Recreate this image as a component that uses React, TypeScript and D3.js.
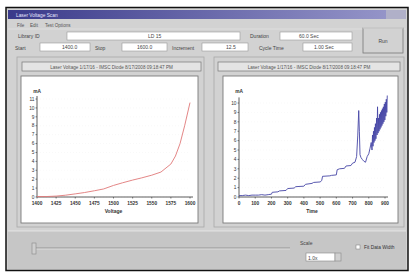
import React from "react";
import * as d3 from "d3";

const voltage = [1400, 1412, 1425, 1437, 1450, 1462, 1475, 1487, 1500, 1512, 1525, 1537, 1550, 1562, 1575, 1581, 1587, 1593, 1600];
const currentL = [0.05, 0.05, 0.1, 0.2, 0.35, 0.5, 0.7, 0.9, 1.3, 1.6, 1.9, 2.15, 2.45, 2.8, 3.7, 4.6, 6.0, 8.0, 10.6];
const xTicksL = [1400, 1425, 1450, 1475, 1500, 1525, 1550, 1575, 1600];
const yTicksL = [0, 1, 2, 3, 4, 5, 6, 7, 8, 9, 10, 11];

const time = [0, 20, 40, 60, 80, 100, 120, 140, 160, 180, 200, 205, 240, 250, 290, 300, 340, 350, 400, 410, 450, 460, 500, 510, 515, 560, 570, 600, 605, 620, 650, 660, 690, 700, 715, 725, 732, 738, 742, 746, 752, 760, 770, 780, 790, 800, 808, 815, 820, 823, 826, 829, 832, 835, 838, 841, 844, 848, 851, 854, 857, 860, 863, 866, 869, 872, 875, 878, 881, 884, 887, 890, 893, 896, 899, 902, 905, 908, 911, 914];
const currentR = [0.15, 0.15, 0.2, 0.15, 0.2, 0.2, 0.2, 0.25, 0.2, 0.25, 0.3, 0.5, 0.55, 0.65, 0.7, 0.9, 0.95, 1.1, 1.15, 1.35, 1.45, 1.55, 1.6, 1.75, 2.2, 2.25, 2.3, 2.35, 2.9, 3.0, 3.05, 3.3, 3.35, 3.6, 3.7, 4.3, 6.5, 9.2, 7.0, 4.5, 4.2, 4.0, 3.8, 3.7, 4.3, 4.6, 5.2, 5.8, 5.0, 6.6, 5.4, 7.0, 5.8, 7.4, 6.0, 7.8, 6.2, 8.4, 6.6, 9.6, 6.8, 8.4, 7.0, 8.8, 7.2, 9.0, 7.4, 9.2, 7.6, 9.4, 7.8, 9.6, 8.0, 9.9, 8.2, 10.1, 8.6, 10.4, 9.0, 10.8];
const xTicksR = [0, 100, 200, 300, 400, 500, 600, 700, 800, 900];
const yTicksR = [0, 1, 2, 3, 4, 5, 6, 7, 8, 9, 10];

const FONT = "Liberation Sans, Arial, sans-serif";

function Field({ x, y, w, h, text, tx }: { x: number; y: number; w: number; h: number; text: string; tx: number }) {
  return (
    <g>
      <rect x={x} y={y} width={w} height={h} fill="#fff" stroke="#9a9a9a" strokeWidth={0.6} />
      <text x={tx} y={y + h - 2} fontSize={5} fill="#444" fontFamily={FONT}>{text}</text>
    </g>
  );
}

function Chart({ xs, ys, xDom, yDom, xRange, yRange, xTicks, yTicks, color, xLabel, frame, title }: any) {
  const x = d3.scaleLinear().domain(xDom).range(xRange);
  const y = d3.scaleLinear().domain(yDom).range(yRange);
  const line = d3.line<number>().x((d, i) => x(xs[i])).y((d) => y(d));
  const ax = xRange[0];
  const ay = yRange[0];
  return (
    <g>
      <rect x={frame.gx} y={57} width={frame.gw} height={170} fill="none" stroke="#a8a8a8" strokeWidth={0.8} />
      <rect x={frame.tx} y={62} width={frame.tw} height={9} fill="#e4e4e4" stroke="#777" strokeWidth={0.7} />
      <text x={frame.tx + frame.tw / 2} y={68.8} fontSize={4.6} textAnchor="middle" fill="#555" fontFamily={FONT}>{title}</text>
      <rect x={frame.px} y={76} width={frame.pw} height={147} fill="#fff" stroke="#7a7a7a" strokeWidth={0.9} />
      {yTicks.map((t: number) => (
        <line key={"g" + t} x1={ax} x2={xRange[1]} y1={y(t)} y2={y(t)} stroke="#f2f2f2" strokeWidth={0.5} strokeDasharray="1,2" />
      ))}
      <line x1={ax} x2={ax} y1={yRange[1]} y2={ay} stroke="#333" strokeWidth={0.8} />
      <line x1={ax} x2={xRange[1] + 3} y1={ay} y2={ay} stroke="#333" strokeWidth={0.8} />
      {yTicks.map((t: number) => (
        <g key={"y" + t}>
          <line x1={ax - 1.5} x2={ax} y1={y(t)} y2={y(t)} stroke="#333" strokeWidth={0.6} />
          <text x={ax - 2.5} y={y(t) + 1.7} fontSize={4.8} textAnchor="end" fill="#333" fontFamily={FONT}>{t}</text>
        </g>
      ))}
      {xTicks.map((t: number) => (
        <g key={"x" + t}>
          <line x1={x(t)} x2={x(t)} y1={ay} y2={ay + 1.5} stroke="#333" strokeWidth={0.6} />
          <text x={x(t)} y={ay + 7.5} fontSize={4.8} textAnchor="middle" fill="#333" fontFamily={FONT} fontWeight="bold">{t}</text>
        </g>
      ))}
      <text x={ax} y={93} fontSize={4.8} textAnchor="middle" fill="#333" fontFamily={FONT} fontWeight="bold">mA</text>
      <text x={(xRange[0] + xRange[1]) / 2} y={ay + 16} fontSize={5} textAnchor="middle" fill="#333" fontFamily={FONT} fontWeight="bold">{xLabel}</text>
      <path d={line(ys) || ""} fill="none" stroke={color} strokeWidth={0.9} />
    </g>
  );
}

export default function App() {
  return (
    <svg width={410} height={275} style={{ position: "absolute", left: 0, top: 0 }}>
      <defs>
        <linearGradient id="tb" x1="0" x2="1" y1="0" y2="0">
          <stop offset="0" stopColor="#3a3a8a" />
          <stop offset="1" stopColor="#9494c8" />
        </linearGradient>
      </defs>
      <rect width={410} height={275} fill="#fff" />
      <rect x={6} y={7.5} width={402} height={263} fill="#d2d2d2" stroke="#111" strokeWidth={1.5} />
      <rect x={8} y={10} width={378} height={9} fill="url(#tb)" />
      <rect x={386} y={10} width={20} height={9} fill="#b0b0c8" />
      <text x={16} y={16.5} fontSize={4.8} fill="#e8e8ff" fontFamily={FONT}>Laser Voltage Scan</text>
      <text x={17} y={26.5} fontSize={4.6} fill="#555" fontFamily={FONT}>File</text>
      <text x={30} y={26.5} fontSize={4.6} fill="#555" fontFamily={FONT}>Edit</text>
      <text x={45} y={26.5} fontSize={4.6} fill="#555" fontFamily={FONT}>Test Options</text>
      <line x1={8} x2={406} y1={29} y2={29} stroke="#e8e8e8" strokeWidth={0.6} />

      <text x={18} y={38} fontSize={5} fill="#444" fontFamily={FONT}>Library ID</text>
      <Field x={67} y={32} w={173} h={8} text="LD 15" tx={148} />
      <text x={250} y={38} fontSize={5} fill="#444" fontFamily={FONT}>Duration</text>
      <Field x={280} y={32} w={72} h={8} text="60.0 Sec" tx={299} />

      <text x={15} y={49.5} fontSize={5} fill="#444" fontFamily={FONT}>Start</text>
      <Field x={40} y={43} w={50} h={8} text="1400.0" tx={62} />
      <text x={95} y={49.5} fontSize={5} fill="#444" fontFamily={FONT}>Stop</text>
      <Field x={122} y={43} w={45} h={8} text="1600.0" tx={137} />
      <text x={172} y={49.5} fontSize={5} fill="#444" fontFamily={FONT}>Increment</text>
      <Field x={202} y={43} w={46} h={8} text="12.5" tx={226} />
      <text x={259} y={49.5} fontSize={5} fill="#444" fontFamily={FONT}>Cycle Time</text>
      <Field x={303} y={43} w={49} h={8} text="1.00 Sec" tx={314} />

      <rect x={363} y={28} width={40} height={25} fill="#d2d2d2" stroke="#777" strokeWidth={0.8} />
      <line x1={363} x2={403} y1={28} y2={28} stroke="#f4f4f4" strokeWidth={0.8} />
      <text x={383} y={43} fontSize={5} textAnchor="middle" fill="#444" fontFamily={FONT}>Run</text>

      <Chart xs={voltage} ys={currentL} xDom={[1400, 1600]} yDom={[0, 11.34]} xRange={[37, 190]} yRange={[197, 96]}
        xTicks={xTicksL} yTicks={yTicksL} color="#e07878" xLabel="Voltage"
        frame={{ gx: 17, gw: 187, tx: 22, tw: 179, px: 21, pw: 177 }}
        title="Laser Voltage 1/17/16 - IMSC Diode 8/17/2008 09:18:47 PM" />
      <Chart xs={time} ys={currentR} xDom={[0, 900]} yDom={[0, 10.6]} xRange={[239, 385]} yRange={[197, 97.4]}
        xTicks={xTicksR} yTicks={yTicksR} color="#4646a6" xLabel="Time"
        frame={{ gx: 214, gw: 190, tx: 218, tw: 182, px: 223, pw: 175 }}
        title="Laser Voltage 1/17/16 - IMSC Diode 8/17/2008 09:18:47 PM" />

      <rect x={8} y={231} width={398} height={38} fill="#c6c6c6" />
      <line x1={8} x2={406} y1={231} y2={231} stroke="#eaeaea" strokeWidth={0.8} />
      <line x1={33} x2={290} y1={248} y2={248} stroke="#8a8a8a" strokeWidth={0.8} />
      <line x1={33} x2={290} y1={249} y2={249} stroke="#eee" strokeWidth={0.6} />
      <rect x={32} y={243} width={4} height={11} fill="#cfcfcf" stroke="#888" strokeWidth={0.6} />
      <text x={300} y={245} fontSize={5} fill="#444" fontFamily={FONT}>Scale</text>
      <rect x={306} y={253} width={29} height={8} fill="#fff" stroke="#888" strokeWidth={0.6} />
      <text x={308} y={259.5} fontSize={5} fill="#444" fontFamily={FONT}>1.0x</text>
      <rect x={335} y={253} width={6} height={8} fill="#d0d0d0" stroke="#888" strokeWidth={0.6} />
      <rect x={356} y={245} width={4} height={4} fill="#fff" stroke="#777" strokeWidth={0.5} />
      <text x={364} y={249} fontSize={4.8} fill="#333" fontFamily={FONT}>Fit Data Width</text>
    </svg>
  );
}
